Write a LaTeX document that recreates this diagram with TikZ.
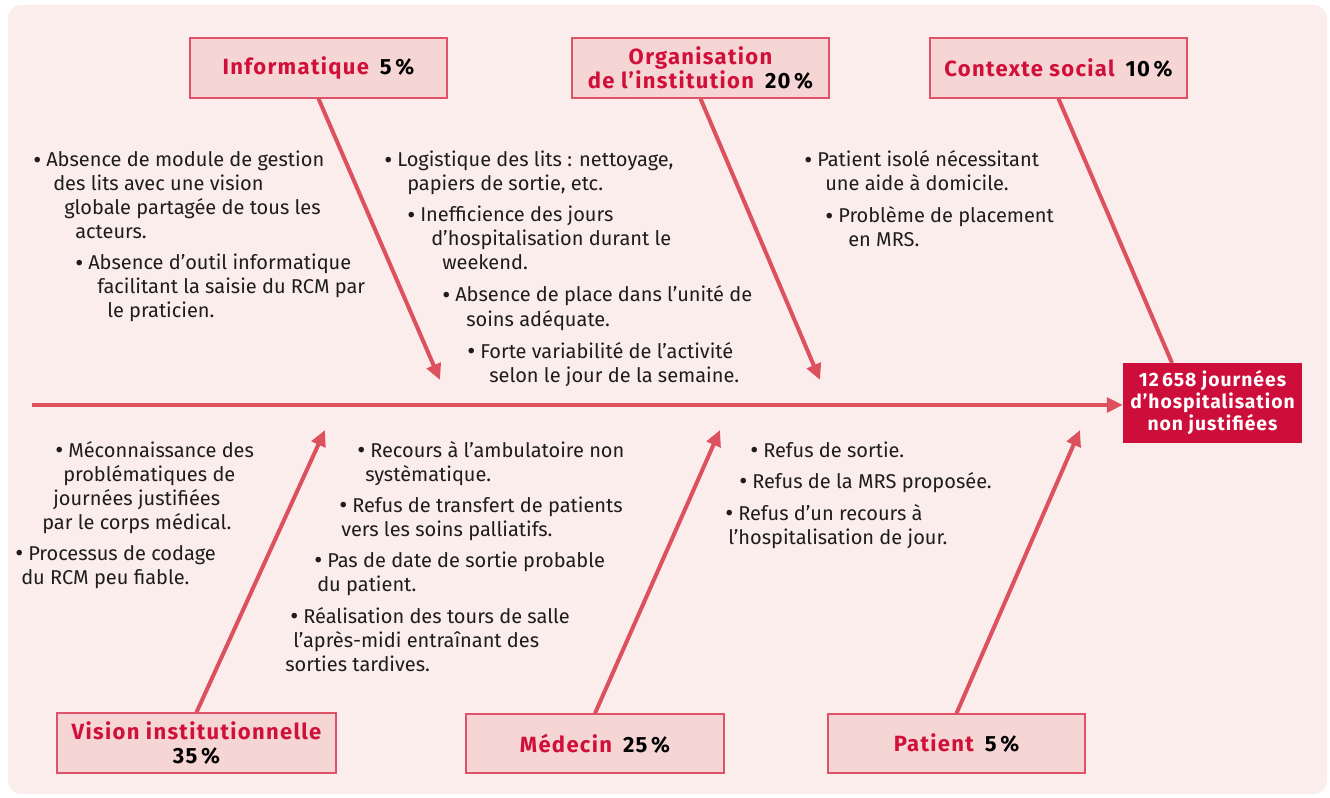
\documentclass[tikz,border=0pt]{standalone}
\usepackage{fontspec}
\setmainfont{Fira Sans}
\usetikzlibrary{arrows.meta}
\newlength\pxu \setlength\pxu{0.75pt}
\definecolor{bgpink}{RGB}{250,237,236}
\definecolor{boxfill}{RGB}{245,214,212}
\definecolor{boxline}{RGB}{224,82,104}
\definecolor{redtext}{RGB}{208,16,58}
\definecolor{bonecol}{RGB}{221,80,94}
\definecolor{efffill}{RGB}{206,14,58}
\definecolor{txtcol}{RGB}{30,28,30}
\newcommand\bul{\llap{\raisebox{-0.15ex}{\fontsize{18.5pt}{18pt}\selectfont\textbullet}\hspace{0.25em}}}
\newcommand\pc[1]{{\color{black}#1\,\%}}
\begin{document}
\begin{tikzpicture}[x=0.75pt,y=-0.75pt,
  bone/.style={draw=bonecol,line width=3pt},
  arr/.style={-{Triangle[length=12pt,width=11pt]}},
  catbox/.style={draw=boxline,fill=boxfill,line width=1pt,text=redtext,align=center,
    font=\fontsize{16.5pt}{18pt}\selectfont\bfseries\addfontfeature{LetterSpace=6},inner sep=0pt},
  effbox/.style={fill=efffill,text=white,align=center,inner sep=0pt,
    font=\fontsize{14.5pt}{16.5pt}\selectfont\bfseries\addfontfeature{LetterSpace=5}},
  txt/.style={anchor=base west,inner sep=0pt,text=txtcol,font=\fontsize{15pt}{18pt}\selectfont}]
\useasboundingbox (0,0) rectangle (1330,798);
\fill[white] (0,0) rectangle (1330,798);
\fill[bgpink,rounded corners=10pt] (8,5) rectangle (1327,794);

% category boxes
\node[catbox,minimum width=257\pxu,minimum height=60\pxu] (info) at (318.5,68) {Informatique\hspace{0.5em}\pc{5}};
\node[catbox,minimum width=257\pxu,minimum height=60\pxu] (org) at (700.5,68) {Organisation\\[-0.4pt]de l’institution\hspace{0.5em}\pc{20}};
\node[catbox,minimum width=257\pxu,minimum height=60\pxu] (ctx) at (1058.5,68) {Contexte social\hspace{0.5em}\pc{10}};
\node[catbox,minimum width=279\pxu,minimum height=60\pxu] (vis) at (196.5,743) {Vision institutionnelle\\[0.5pt]\pc{35}};
\node[catbox,minimum width=258\pxu,minimum height=59\pxu] (med) at (595,743.5) {Médecin\hspace{0.5em}\pc{25}};
\node[catbox,minimum width=257\pxu,minimum height=59\pxu] (pat) at (956.5,743.5) {Patient\hspace{0.5em}\pc{5}};
\node[effbox,minimum width=179\pxu,minimum height=80\pxu] (eff) at (1212.5,403) {12\,658 journées\\d’hospitalisation\\non justifiées};

% spine
\coordinate (s0) at (32,405);
\draw[bone,arr] (s0) -- (s0 -| eff.west);

% bones
\coordinate (tInfo) at (440,380);
\coordinate (tOrg) at (820,380);
\coordinate (tCtx) at (1172,363);
\coordinate (tVis) at (325,430);
\coordinate (tMed) at (720,430);
\coordinate (tPat) at (1080,430);
\draw[bone,arr] (info.south) -- (tInfo);
\draw[bone,arr] (org.south) -- (tOrg);
\draw[bone] (ctx.south) -- (tCtx);
\draw[bone,arr] (vis.north) -- (tVis);
\draw[bone,arr] (med.north) -- (tMed);
\draw[bone,arr] (pat.north) -- (tPat);

% Informatique causes
\node[txt] (i1) at (46,167) {\bul Absence de module de gestion};
\node[txt] (i2) at (53,191) {des lits avec une vision};
\node[txt] (i3) at (64,215) {globale partagée de tous les};
\node[txt] (i4) at (75,239) {acteurs.};
\node[txt] (i5) at (88,270) {\bul Absence d’outil informatique};
\node[txt] (i6) at (97,294) {facilitant la saisie du RCM par};
\node[txt] (i7) at (107,318) {le praticien.};

% Organisation causes
\node[txt] (o1) at (397,167) {\bul Logistique des lits : nettoyage,};
\node[txt] (o2) at (407,191) {papiers de sortie, etc.};
\node[txt] (o3) at (420,222) {\bul Inefficience des jours};
\node[txt] (o4) at (431,246) {d’hospitalisation durant le};
\node[txt] (o5) at (442,270) {weekend.};
\node[txt] (o6) at (455,302) {\bul Absence de place dans l’unité de};
\node[txt] (o7) at (466,326) {soins adéquate.};
\node[txt] (o8) at (480,358) {\bul Forte variabilité de l’activité};
\node[txt] (o9) at (489,382) {selon le jour de la semaine.};

% Contexte social causes
\node[txt] (c1) at (817,167) {\bul Patient isolé nécessitant};
\node[txt] (c2) at (825,191) {une aide à domicile.};
\node[txt] (c3) at (838,223) {\bul Problème de placement};
\node[txt] (c4) at (848,247) {en MRS.};

% Vision institutionnelle causes
\node[txt] (v1) at (68,457) {\bul Méconnaissance des};
\node[txt] (v2) at (63,481) {problématiques de};
\node[txt] (v3) at (53,505) {journées justifiées};
\node[txt] (v4) at (42,529) {par le corps médical.};
\node[txt] (v5) at (28,560) {\bul Processus de codage};
\node[txt] (v6) at (21,584) {du RCM peu fiable.};

% Médecin causes
\node[txt] (m1) at (370,457) {\bul Recours à l’ambulatoire non};
\node[txt] (m2) at (365,481) {systèmatique.};
\node[txt] (m3) at (352,512) {\bul Refus de transfert de patients};
\node[txt] (m4) at (341,536) {vers les soins palliatifs.};
\node[txt] (m5) at (327,567) {\bul Pas de date de sortie probable};
\node[txt] (m6) at (317,591) {du patient.};
\node[txt] (m7) at (303,623) {\bul Réalisation des tours de salle};
\node[txt] (m8) at (293,647) {l’après-midi entraînant des};
\node[txt] (m9) at (285,671) {sorties tardives.};

% Patient causes
\node[txt] (p1) at (763,457) {\bul Refus de sortie.};
\node[txt] (p2) at (752,488) {\bul Refus de la MRS proposée.};
\node[txt] (p3) at (738,520) {\bul Refus d’un recours à};
\node[txt] (p4) at (728,544) {l’hospitalisation de jour.};
\end{tikzpicture}
\end{document}
